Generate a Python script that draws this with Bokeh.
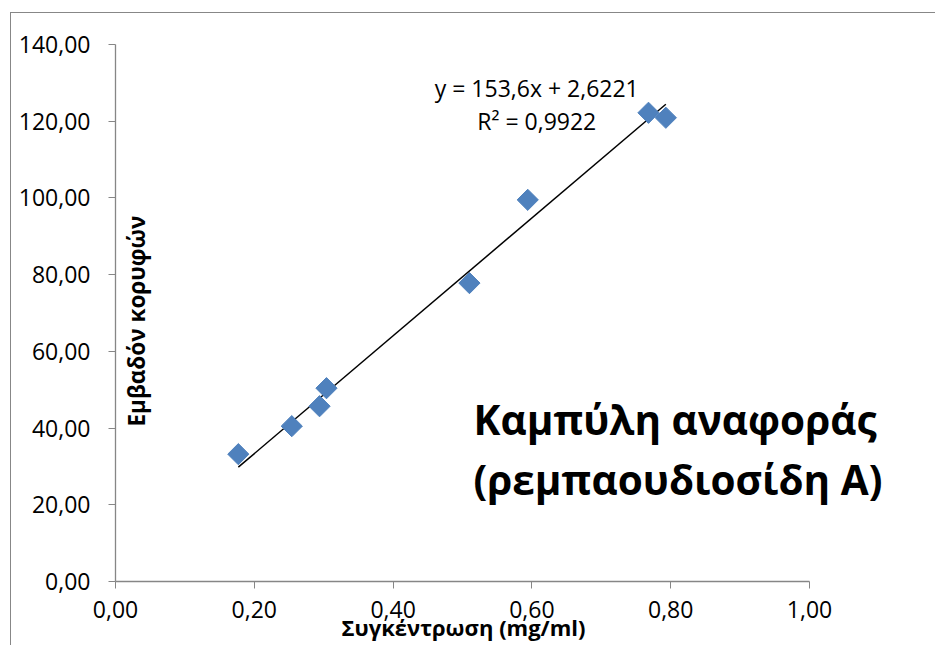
from bokeh.plotting import figure
from bokeh.models import Range1d, FixedTicker, Label, Title
from bokeh.embed import file_html
from bokeh.resources import INLINE
import numpy as np

# Data
conc = [0.177, 0.254, 0.294, 0.304, 0.510, 0.594, 0.768, 0.793]
area = [33.2, 40.5, 45.7, 50.4, 77.8, 99.5, 122.2, 120.9]
slope = 153.6
intercept = 2.6221
r2_text = "R\u00b2 = 0,9922"
eq_text = "y = 153,6x + 2,6221"

x_ticks = [0.0, 0.2, 0.4, 0.6, 0.8, 1.0]
x_tick_labels = ["0,00", "0,20", "0,40", "0,60", "0,80", "1,00"]
y_ticks = [0, 20, 40, 60, 80, 100, 120, 140]
y_tick_labels = ["0,00", "20,00", "40,00", "60,00", "80,00", "100,00", "120,00", "140,00"]

x_title = "Συγκέντρωση (mg/ml)"
y_title = "Εμβαδόν κορυφών"
chart_title = ["Καμπύλη αναφοράς", "(ρεμπαουδιοσίδη Α)"]

FONT = "Open Sans"
AXIS_GRAY = "#868686"

# The plot frame is widened to the right (axis drawn only over 0..1) so that the
# big in-plot title, which overhangs the axis end in the reference, is not clipped.
FIG_W, FIG_H = 925, 633
LEFT, RIGHT, TOP, BOTTOM = 104, 1, 31, 65
AXIS_LEN_PX = 694
x_end = (FIG_W - LEFT - RIGHT) / AXIS_LEN_PX

p = figure(width=FIG_W, height=FIG_H, output_backend="svg", toolbar_location=None,
           x_range=Range1d(0, x_end), y_range=Range1d(0, 140),
           min_border_left=LEFT, min_border_right=RIGHT, min_border_top=TOP,
           min_border_bottom=BOTTOM)
p.margin = (12, 0, 0, 10)
p.styles = {"border-left": "1px solid #878787", "border-top": "1px solid #878787"}
p.outline_line_color = None
p.xgrid.grid_line_color = None
p.ygrid.grid_line_color = None

for ax in (p.xaxis[0], p.yaxis[0]):
    ax.axis_line_color = AXIS_GRAY
    ax.axis_line_width = 1.3
    ax.major_tick_line_color = AXIS_GRAY
    ax.minor_tick_line_color = None
    ax.major_tick_in = 0
    ax.major_tick_out = 7
    ax.major_label_text_font = FONT
    ax.major_label_text_font_size = "23px"
    ax.major_label_text_color = "#000000"

p.xaxis[0].bounds = (x_ticks[0], x_ticks[-1])
p.xaxis[0].ticker = FixedTicker(ticks=x_ticks)
p.xaxis[0].major_label_overrides = {t: l for t, l in zip(x_ticks, x_tick_labels)}
p.xaxis[0].major_label_standoff = 12
p.yaxis[0].ticker = FixedTicker(ticks=y_ticks)
p.yaxis[0].major_label_overrides = {t: l for t, l in zip(y_ticks, y_tick_labels)}
p.yaxis[0].major_label_standoff = 18

# x axis title: centred under the 0..1 axis (not under the widened frame)
p.add_layout(Title(text=x_title, align="left", offset=226, standoff=-22,
                   text_font=FONT, text_font_size="22px", text_font_style="bold",
                   text_color="#000000"), "below")

# trend line
xl = np.array([min(conc), max(conc)])
p.line(xl, slope * xl + intercept, line_color="black", line_width=1.5)

# points
p.scatter(conc, area, marker="square", angle=np.pi / 4, size=15,
          fill_color="#4F81BD", line_color="#4F81BD")

# equation labels
p.add_layout(Label(x=0.607, y=128.6, text=eq_text, text_align="center", text_baseline="middle",
                   text_font=FONT, text_font_size="23px", text_color="#000000"))
p.add_layout(Label(x=0.607, y=120.0, text=r2_text, text_align="center", text_baseline="middle",
                   text_font=FONT, text_font_size="23px", text_color="#000000"))

# chart title
p.add_layout(Label(x=0.516, y=42.3, text=chart_title[0], text_align="left", text_baseline="middle",
                   text_font=FONT, text_font_size="40.5px", text_font_style="bold",
                   text_color="#000000"))
p.add_layout(Label(x=0.516, y=26.6, text=chart_title[1], text_align="left", text_baseline="middle",
                   text_font=FONT, text_font_size="40.5px", text_font_style="bold",
                   text_color="#000000"))

# y axis title (sits inside the plot area in the reference)
p.add_layout(Label(x=0.030, y=67.9, text=y_title, angle=np.pi / 2, text_align="center",
                   text_baseline="middle", text_font=FONT, text_font_size="22.5px",
                   text_font_style="bold", text_color="#000000"))

open("out.html", "w").write(file_html(p, INLINE))
